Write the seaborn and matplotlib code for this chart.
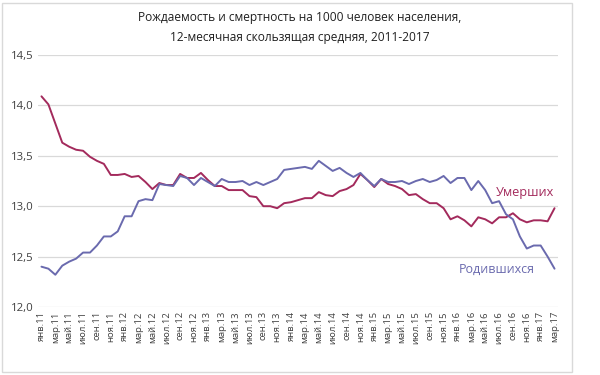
import numpy as np
import pandas as pd
import matplotlib
matplotlib.use("Agg")
import matplotlib.pyplot as plt
import seaborn as sns
from matplotlib.patches import Rectangle

months = ["янв", "фев", "мар", "апр", "май", "июн", "июл", "авг", "сен", "окт", "ноя", "дек"]
years = [11, 12, 13, 14, 15, 16, 17]
periods = [f"{m}.{y}" for y in years for m in months][:75]

deaths = [14.09, 14.01, 13.82, 13.63, 13.59, 13.56, 13.55, 13.49, 13.45, 13.42,
          13.31, 13.31, 13.32, 13.29, 13.30, 13.24, 13.17, 13.23, 13.21, 13.21,
          13.32, 13.28, 13.28, 13.33, 13.26, 13.20, 13.20, 13.16, 13.16, 13.16,
          13.10, 13.09, 13.00, 13.00, 12.98, 13.03, 13.04, 13.06, 13.08, 13.08,
          13.14, 13.11, 13.10, 13.15, 13.17, 13.21, 13.32, 13.26, 13.19, 13.27,
          13.22, 13.20, 13.17, 13.11, 13.12, 13.07, 13.03, 13.03, 12.98, 12.87,
          12.90, 12.86, 12.80, 12.89, 12.87, 12.83, 12.89, 12.89, 12.93, 12.87,
          12.84, 12.86, 12.86, 12.85, 12.98]

births = [12.40, 12.38, 12.32, 12.41, 12.45, 12.48, 12.54, 12.54, 12.61, 12.70,
          12.70, 12.75, 12.90, 12.90, 13.05, 13.07, 13.06, 13.22, 13.21, 13.20,
          13.30, 13.28, 13.21, 13.28, 13.24, 13.20, 13.27, 13.24, 13.24, 13.25,
          13.21, 13.24, 13.21, 13.24, 13.27, 13.36, 13.37, 13.38, 13.39, 13.37,
          13.45, 13.40, 13.35, 13.38, 13.33, 13.29, 13.33, 13.26, 13.20, 13.27,
          13.24, 13.24, 13.25, 13.22, 13.25, 13.27, 13.24, 13.26, 13.30, 13.23,
          13.28, 13.28, 13.16, 13.25, 13.16, 13.03, 13.05, 12.92, 12.87, 12.70,
          12.58, 12.61, 12.61, 12.50, 12.38]

series_names = ["Умерших", "Родившихся"]
title_lines = ["Рождаемость и смертность на 1000 человек населения,",
               "12-месячная скользящая средняя, 2011-2017"]

red = "#A32A5C"
blue = "#6A6AAE"

df = pd.DataFrame({
    "idx": list(range(len(periods))) * 2,
    "value": deaths + births,
    "series": [series_names[0]] * len(deaths) + [series_names[1]] * len(births),
})

sns.set_theme(style="white")
plt.rcParams["font.family"] = ["Open Sans", "DejaVu Sans"]

fig = plt.figure(figsize=(6, 3.75), dpi=100)
ax = fig.add_axes([38 / 600, 1 - 307 / 375, 520 / 600, 252 / 375])

sns.lineplot(data=df, x="idx", y="value", hue="series",
             palette={series_names[0]: red, series_names[1]: blue},
             linewidth=1.4, ax=ax, legend=False)

ax.set_xlim(-0.5, len(periods) - 0.5)
ax.set_ylim(12.0, 14.5)
yt = [12.0, 12.5, 13.0, 13.5, 14.0, 14.5]
ax.set_yticks(yt)
ax.set_yticklabels([f"{v:.1f}".replace(".", ",") for v in yt], fontsize=8.2, color="#404040")
xt = list(range(0, len(periods), 2))
ax.set_xticks(xt)
ax.set_xticklabels([periods[i] for i in xt], rotation=90, fontsize=6.8, color="#404040")
ax.tick_params(axis="both", length=0, pad=3)
ax.set_xlabel("")
ax.set_ylabel("")
ax.grid(axis="y", color="#D9D9D9", linewidth=0.9)
ax.set_axisbelow(True)
for s in ax.spines.values():
    s.set_visible(False)

ax.text(len(periods) - 1, 13.14, series_names[0], color=red, fontsize=9.2,
        ha="right", va="center")
ax.text(71.2, 12.37, series_names[1], color=blue, fontsize=9.0,
        ha="right", va="center")

fig.text(0.5, 1 - 17 / 375, title_lines[0], ha="center", va="center", fontsize=8.6, color="#202020")
fig.text(0.5, 1 - 38 / 375, title_lines[1], ha="center", va="center", fontsize=8.6, color="#202020")

fig.patches.append(Rectangle((2 / 600, 3 / 375), 570 / 600, 369 / 375, transform=fig.transFigure,
                             fill=False, edgecolor="#D9D9D9", linewidth=1))

fig.savefig("out.png", dpi=100)
